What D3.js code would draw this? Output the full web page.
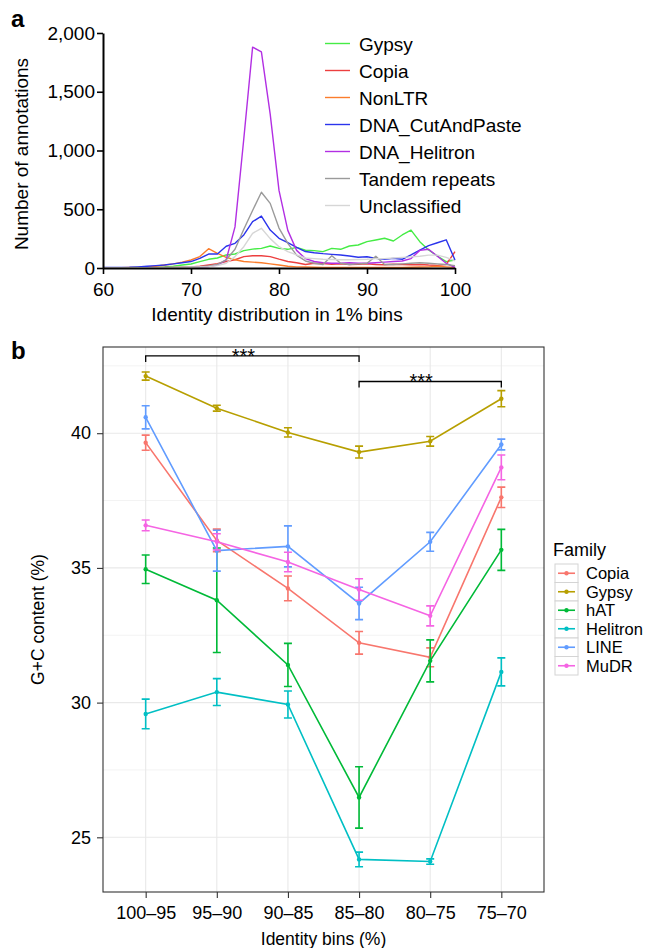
<!DOCTYPE html>
<html>
<head>
<meta charset="utf-8">
<script src="https://cdn.jsdelivr.net/npm/d3@7"></script>
<style>
  body { margin: 0; background: #fff; }
  text { font-family: "Liberation Sans", Arial, Helvetica, sans-serif; }
</style>
</head>
<body>
<script>
// ---- panel a data: annotations per 1% identity bin ----
const bins = [60,61,62,63,64,65,66,67,68,69,70,71,72,73,74,75,76,77,78,79,80,
              81,82,83,84,85,86,87,88,89,90,91,92,93,94,95,96,97,98,99,100];
const gypsyA = [2,2,3,3,4,5,7,10,15,25,34,54,74,85,111,119,148,161,167,187,167,
                159,176,151,148,139,167,159,187,196,224,238,253,230,281,323,224,153,102,54,68];
const copiaA = [1,1,1,2,2,3,3,4,5,7,10,15,26,37,55,70,97,104,104,97,75,
                55,45,30,40,38,32,35,30,32,35,30,28,32,30,28,30,25,22,30,139];
const nonLTR = [2,2,3,4,6,10,15,25,35,50,68,97,164,125,90,70,55,50,45,35,25,
                15,10,8,6,5,5,5,5,5,5,5,5,5,5,6,8,10,15,10,5];
const cutAndPaste = [5,5,5,6,10,15,20,25,35,45,55,82,119,119,185,210,281,394,442,323,253,
                     215,175,140,130,122,116,111,102,91,96,82,74,82,74,111,153,190,215,240,68];
const helitronA = [0,0,0,0,0,0,0,1,2,3,5,8,12,25,70,350,1100,1880,1840,1310,660,
                   320,150,80,55,45,40,40,45,40,40,45,50,55,60,80,150,160,100,40,5];
const tandem = [1,1,1,2,2,3,3,4,5,6,8,12,18,30,70,160,330,490,645,550,340,
                210,110,60,40,30,105,40,30,35,40,100,30,30,35,40,45,40,35,30,20];
const unclassified = [1,1,1,1,2,2,3,3,4,5,6,8,12,20,40,97,181,295,338,250,181,
                      139,111,85,80,75,72,70,70,72,75,80,80,85,90,95,100,110,110,90,60];
const seriesNamesA = ["Gypsy","Copia","NonLTR","DNA_CutAndPaste","DNA_Helitron","Tandem repeats","Unclassified"];
const seriesA = [gypsyA, copiaA, nonLTR, cutAndPaste, helitronA, tandem, unclassified];
const colorsA = ["#45ec45","#ec3f3f","#fb7d2c","#2b34ec","#b22fe3","#9a9a9a","#d6d6d6"];
const yTicksA = [0, 500, 1000, 1500, 2000];
const xTicksA = [60, 70, 80, 90, 100];

// ---- panel b data: G+C content by identity bin ----
const identityBins = ["100\u201395","95\u201390","90\u201385","85\u201380","80\u201375","75\u201370"];
const families = ["Copia","Gypsy","hAT","Helitron","LINE","MuDR"];
const copiaGC    = [39.65, 36.02, 34.24, 32.22, 31.68, 37.62];
const copiaErr   = [0.28, 0.42, 0.46, 0.42, 0.35, 0.38];
const gypsyGC    = [42.12, 40.93, 40.03, 39.3, 39.7, 41.28];
const gypsyErr   = [0.15, 0.11, 0.17, 0.22, 0.18, 0.3];
const hatGC      = [34.95, 33.8, 31.4, 26.48, 31.55, 35.67];
const hatErr     = [0.53, 1.94, 0.8, 1.14, 0.78, 0.76];
const helitronGC = [29.58, 30.39, 29.93, 24.18, 24.1, 31.14];
const helitronErr= [0.55, 0.5, 0.5, 0.27, 0.1, 0.52];
const lineGC     = [40.59, 35.64, 35.8, 33.68, 35.97, 39.58];
const lineErr    = [0.43, 0.76, 0.76, 0.6, 0.35, 0.2];
const mudrGC     = [36.58, 35.97, 35.22, 34.2, 33.22, 38.73];
const mudrErr    = [0.2, 0.3, 0.36, 0.4, 0.37, 0.46];
const gcValues = [copiaGC, gypsyGC, hatGC, helitronGC, lineGC, mudrGC];
const gcErrors = [copiaErr, gypsyErr, hatErr, helitronErr, lineErr, mudrErr];
const colorsB = ["#F8766D","#B79F00","#00BA38","#00BFC4","#619CFF","#F564E3"];
const yTicksB = [25, 30, 35, 40];
const yMinorB = [27.5, 32.5, 37.5, 42.5];
const brackets = [["100\u201395","85\u201380",42.87,"***"], ["85\u201380","75\u201370",41.92,"***"]];

const width = 651, height = 948;
const svg = d3.select("body").append("svg")
  .attr("width", width).attr("height", height);

// ================= panel a =================
const xA = d3.scaleLinear().domain([60, 100]).range([103, 455]);
const yA = d3.scaleLinear().domain([0, 2000]).range([268, 33]);

svg.append("text").attr("x", 11).attr("y", 27)
  .style("font-size", "24px").style("font-weight", "bold").text("a");

const lineA = d3.line().x((d, i) => xA(bins[i])).y(d => yA(d));
svg.append("g").selectAll("path")
  .data(seriesA)
  .enter().append("path")
  .attr("d", d => lineA(d))
  .attr("fill", "none")
  .attr("stroke", (d, i) => colorsA[i])
  .attr("stroke-width", 1.4)
  .attr("stroke-linejoin", "round");

const axA = svg.append("g").attr("transform", "translate(103,0)")
  .call(d3.axisLeft(yA).tickValues(yTicksA).tickFormat(d3.format(",")).tickSize(6).tickSizeOuter(0));
const axAx = svg.append("g").attr("transform", "translate(0,268)")
  .call(d3.axisBottom(xA).tickValues(xTicksA).tickSize(6).tickSizeOuter(0));
[axA, axAx].forEach(g => {
  g.select(".domain").attr("stroke", "#000").attr("stroke-width", 2);
  g.selectAll(".tick line").attr("stroke", "#000").attr("stroke-width", 1.6);
  g.selectAll(".tick text").attr("fill", "#000").style("font-size", "19px")
    .style("font-family", "'Liberation Sans', Arial, sans-serif");
});
axA.selectAll(".tick text").attr("x", -8);
axAx.selectAll(".tick text").attr("y", 15);

svg.append("text").attr("x", 277).attr("y", 321).attr("text-anchor", "middle")
  .style("font-size", "19px").text("Identity distribution in 1% bins");
svg.append("text").attr("transform", "translate(28,154) rotate(-90)").attr("text-anchor", "middle")
  .style("font-size", "19px").text("Number of annotations");

const legA = svg.append("g").selectAll("g")
  .data(seriesNamesA).enter().append("g")
  .attr("transform", (d, i) => `translate(325,${43.5 + i * 27})`);
legA.append("line").attr("x1", 0).attr("x2", 25)
  .attr("stroke", (d, i) => colorsA[i]).attr("stroke-width", 1.4);
legA.append("text").attr("x", 34).attr("y", 7)
  .style("font-size", "19px").text(d => d);

// ================= panel b =================
const pLeft = 103, pRight = 544, pTop = 347, pBottom = 892;
const xB = d3.scalePoint().domain(identityBins).range([pLeft, pRight]).padding(0.6);
const yB = d3.scaleLinear().domain([22.97, 43.2]).range([pBottom, pTop]);

svg.append("text").attr("x", 11).attr("y", 359)
  .style("font-size", "24px").style("font-weight", "bold").text("b");

const grid = svg.append("g");
grid.selectAll(".minor").data(yMinorB).enter().append("line")
  .attr("x1", pLeft).attr("x2", pRight).attr("y1", d => yB(d)).attr("y2", d => yB(d))
  .attr("stroke", "#f3f3f3").attr("stroke-width", 1);
grid.selectAll(".major").data(yTicksB).enter().append("line")
  .attr("x1", pLeft).attr("x2", pRight).attr("y1", d => yB(d)).attr("y2", d => yB(d))
  .attr("stroke", "#e9e9e9").attr("stroke-width", 1.1);
grid.selectAll(".vert").data(identityBins).enter().append("line")
  .attr("x1", d => xB(d)).attr("x2", d => xB(d)).attr("y1", pTop).attr("y2", pBottom)
  .attr("stroke", "#e9e9e9").attr("stroke-width", 1.1);

// significance brackets
brackets.forEach(b => {
  const x1 = xB(b[0]), x2 = xB(b[1]), y = yB(b[2]);
  svg.append("path")
    .attr("d", `M${x1},${y + 6}V${y}H${x2}V${y + 6}`)
    .attr("fill", "none").attr("stroke", "#000").attr("stroke-width", 1.3);
  svg.append("text").attr("x", (x1 + x2) / 2 - 9).attr("y", y + 7)
    .attr("text-anchor", "middle").style("font-size", "20px").text(b[3]);
});

const lineB = d3.line().x((d, i) => xB(identityBins[i])).y(d => yB(d));
const fam = svg.append("g").selectAll("g")
  .data(families).enter().append("g");
fam.append("path")
  .attr("d", (d, i) => lineB(gcValues[i]))
  .attr("fill", "none").attr("stroke", (d, i) => colorsB[i]).attr("stroke-width", 1.6);
fam.each(function(d, i) {
  const g = d3.select(this);
  gcValues[i].forEach((v, j) => {
    const x = xB(identityBins[j]);
    const y0 = yB(v - gcErrors[i][j]), y1 = yB(v + gcErrors[i][j]);
    g.append("path")
      .attr("d", `M${x - 4},${y0}H${x + 4}M${x},${y0}V${y1}M${x - 4},${y1}H${x + 4}`)
      .attr("fill", "none").attr("stroke", colorsB[i]).attr("stroke-width", 1.6);
    g.append("circle").attr("cx", x).attr("cy", yB(v)).attr("r", 2.2)
      .attr("fill", colorsB[i]);
  });
});

svg.append("rect").attr("x", pLeft).attr("y", pTop)
  .attr("width", pRight - pLeft).attr("height", pBottom - pTop)
  .attr("fill", "none").attr("stroke", "#333").attr("stroke-width", 1.1);

const axB = svg.append("g").attr("transform", `translate(${pLeft},0)`)
  .call(d3.axisLeft(yB).tickValues(yTicksB).tickSize(6).tickSizeOuter(0));
const axBx = svg.append("g").attr("transform", `translate(0,${pBottom})`)
  .call(d3.axisBottom(xB).tickSize(6).tickSizeOuter(0));
[axB, axBx].forEach(g => {
  g.select(".domain").remove();
  g.selectAll(".tick line").attr("stroke", "#333").attr("stroke-width", 1.1);
  g.selectAll(".tick text").attr("fill", "#000").style("font-size", "18px")
    .style("font-family", "'Liberation Sans', Arial, sans-serif");
});
axB.selectAll(".tick text").attr("x", -12);
axBx.selectAll(".tick text").attr("y", 14);

svg.append("text").attr("x", (pLeft + pRight) / 2).attr("y", 945).attr("text-anchor", "middle")
  .style("font-size", "17.5px").text("Identity bins (%)");
svg.append("text").attr("transform", `translate(44,${(pTop + pBottom) / 2}) rotate(-90)`)
  .attr("text-anchor", "middle").style("font-size", "17.5px").text("G+C content (%)");

// legend b
svg.append("text").attr("x", 553).attr("y", 556).style("font-size", "18px").text("Family");
const legB = svg.append("g").selectAll("g")
  .data(families).enter().append("g")
  .attr("transform", (d, i) => `translate(555,${564 + i * 18.5})`);
legB.append("rect").attr("width", 23).attr("height", 18.5)
  .attr("fill", "#fff").attr("stroke", "#d4d4d4").attr("stroke-width", 1);
legB.append("line").attr("x1", 3).attr("x2", 20).attr("y1", 9.25).attr("y2", 9.25)
  .attr("stroke", (d, i) => colorsB[i]).attr("stroke-width", 1.6);
legB.append("circle").attr("cx", 11.5).attr("cy", 9.25).attr("r", 2.2)
  .attr("fill", (d, i) => colorsB[i]);
legB.append("text").attr("x", 31).attr("y", 15.3).style("font-size", "16.5px").text(d => d);
</script>
</body>
</html>
